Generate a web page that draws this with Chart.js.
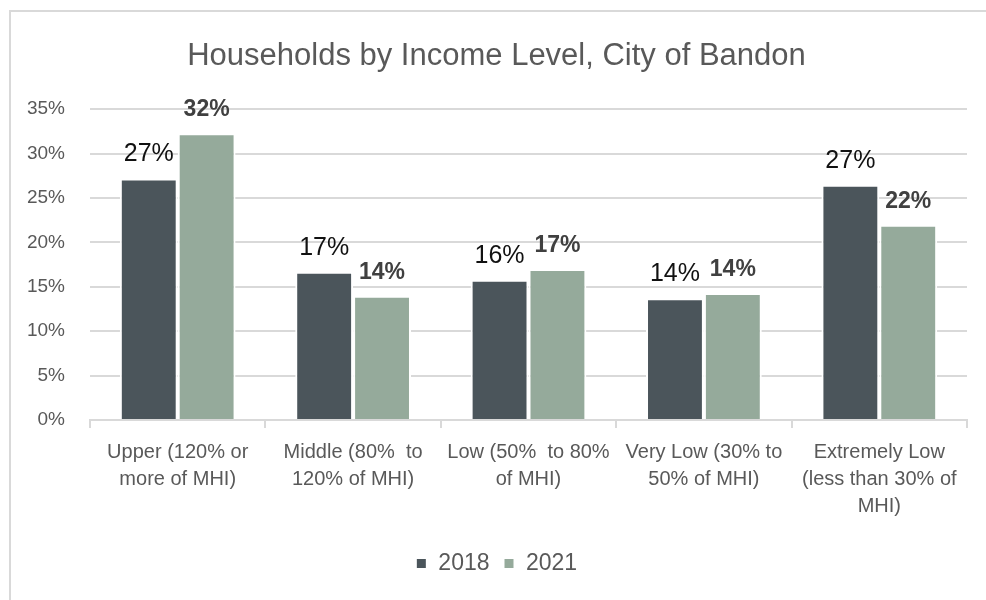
<!DOCTYPE html>
<html>
<head>
<meta charset="utf-8">
<script src="https://cdn.jsdelivr.net/npm/chart.js@4.4.1/dist/chart.umd.min.js"></script>
<style>
  html, body { margin: 0; padding: 0; background: #fff; }
  #wrap { position: relative; width: 986px; height: 600px; overflow: hidden; }
  #frame { position: absolute; left: 9px; top: 10px; width: 1200px; height: 800px;
           border-left: 2px solid #d9d9d9; border-top: 2px solid #d9d9d9; }
  canvas { position: absolute; left: 0; top: 0; }
</style>
</head>
<body>
<div id="wrap">
  <div id="frame"></div>
  <canvas id="chart" width="986" height="600"></canvas>
</div>
<script>
// income groups (multi-line axis labels)
const categories = [
  ['Upper (120% or', 'more of MHI)'],
  ['Middle (80%  to', '120% of MHI)'],
  ['Low (50%  to 80%', 'of MHI)'],
  ['Very Low (30% to', '50% of MHI)'],
  ['Extremely Low', '(less than 30% of', 'MHI)']
];
// share of households, percent
const share2018 = [27.2, 16.7, 15.8, 13.7, 26.5];
const share2021 = [32.3, 14.0, 17.0, 14.3, 22.0];
const yTicks = [0, 5, 10, 15, 20, 25, 30, 35];

const FONT = "'Liberation Sans', Arial, sans-serif";

// writes the rounded percentage above each bar
const barLabels = {
  id: 'barLabels',
  afterDatasetsDraw(chart) {
    const ctx = chart.ctx;
    chart.data.datasets.forEach((ds, i) => {
      const meta = chart.getDatasetMeta(i);
      ctx.save();
      ctx.font = i === 1 ? 'bold 23px ' + FONT : '25px ' + FONT;
      ctx.fillStyle = i === 1 ? '#404040' : '#111';
      ctx.textAlign = 'center';
      ctx.textBaseline = 'alphabetic';
      meta.data.forEach((bar, j) => {
        ctx.fillText(Math.round(ds.data[j]) + '%', bar.x, bar.y - 17);
      });
      ctx.restore();
    });
  }
};

new Chart(document.getElementById('chart'), {
  type: 'bar',
  data: {
    labels: categories,
    datasets: [
      { label: '2018', data: share2018, backgroundColor: '#4b555b',
        borderColor: '#fff', borderWidth: 2 },
      { label: '2021', data: share2021, backgroundColor: '#95aa9b',
        borderColor: '#fff', borderWidth: 2 }
    ]
  },
  options: {
    responsive: false,
    animation: false,
    categoryPercentage: 0.66,
    barPercentage: 1.0,
    layout: { padding: { left: 26, right: 19, top: 38, bottom: 15 } },
    plugins: {
      tooltip: { enabled: false },
      title: {
        display: true,
        text: 'Households by Income Level, City of Bandon',
        color: '#595959',
        font: { family: FONT, size: 31, weight: 'normal' },
        padding: { top: 0, bottom: 34 }
      },
      legend: {
        position: 'bottom',
        labels: {
          color: '#595959',
          font: { family: FONT, size: 23 },
          boxWidth: 11, boxHeight: 11,
          padding: 14
        }
      }
    },
    scales: {
      y: {
        min: 0, max: 35,
        afterBuildTicks(scale) { scale.ticks = yTicks.map(v => ({ value: v })); },
        afterFit(scale) { scale.width = 64; },
        ticks: {
          callback: v => v + '%',
          color: '#595959',
          font: { family: FONT, size: 19 },
          padding: 25
        },
        grid: { color: '#d9d9d9', lineWidth: 2, drawTicks: false },
        border: { display: false }
      },
      x: {
        afterFit(scale) { scale.height = 118; },
        ticks: {
          color: '#595959',
          font: { family: FONT, size: 20, lineHeight: 1.35 },
          maxRotation: 0, autoSkip: false, padding: 11
        },
        grid: { color: '#d9d9d9', lineWidth: 2, drawOnChartArea: false, tickLength: 8 },
        border: { color: '#d9d9d9', width: 2 }
      }
    }
  },
  plugins: [barLabels]
});
</script>
</body>
</html>
